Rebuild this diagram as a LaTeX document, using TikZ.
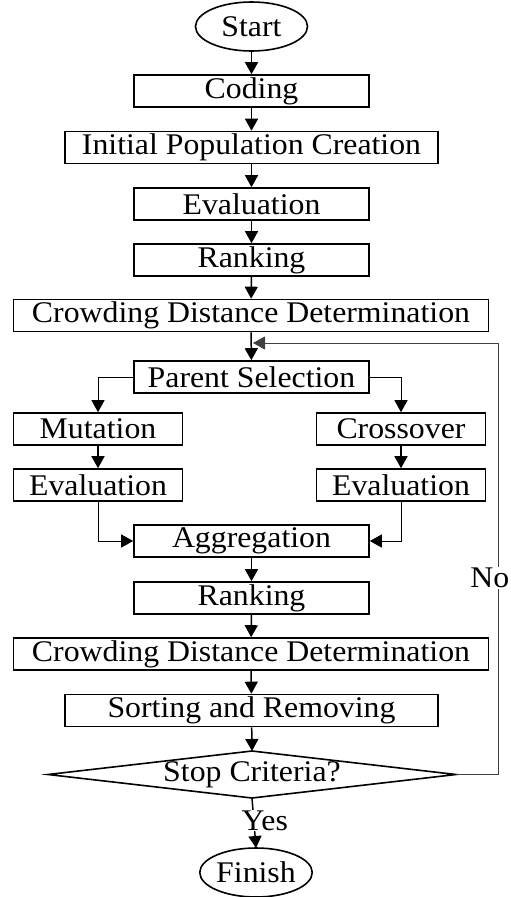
\documentclass[tikz,border=0pt]{standalone}
\usepackage{fontspec}
\setmainfont{Liberation Serif}[FakeStretch=1.06]
\usetikzlibrary{arrows.meta,shapes.geometric}

\begin{document}
\begin{tikzpicture}[x=1pt,y=-1pt,
  every node/.style={font=\fontsize{30}{32}\selectfont, inner sep=0pt},
  box/.style={draw, line width=1.6pt, minimum height=32pt, minimum width=#1},
  box/.default=235pt,
  term/.style={draw, ellipse, line width=1.6pt, minimum width=112pt, minimum height=49pt},
  flow/.style={line width=1.5pt, -{Triangle[length=12pt,width=13pt]}},
  side/.style={line width=1pt, -{Triangle[length=12pt,width=13pt]}},
  loopline/.style={line width=1pt, draw=black!75, -{Triangle[length=12pt,width=13pt]}},
  lbl/.style={fill=white, inner sep=1pt}]
\useasboundingbox (0,0) rectangle (511,897);

% main column
\node[term] (start) at (251.5,26.5) {Start};
\node[box] (coding) at (251.5,91) {Coding};
\node[box=373pt] (init) at (251.5,147.5) {Initial Population Creation};
\node[box] (eval) at (251.5,204) {Evaluation};
\node[box] (rank) at (251.5,260) {Ranking};
\node[box=475pt] (crowd) at (251,315.5) {Crowding Distance Determination};
\node[box] (parent) at (251.5,377) {Parent Selection};

% two branches
\node[box=169pt] (mut) at (98,429) {Mutation};
\node[box=169pt] (cross) at (401,429) {Crossover};
\node[box=169pt] (evall) at (98,485) {Evaluation};
\node[box=169pt] (evalr) at (401,485) {Evaluation};

% after merging
\node[box] (agg) at (251.5,541) {Aggregation};
\node[box] (rank2) at (251.5,598) {Ranking};
\node[box=475pt] (crowd2) at (251,654) {Crowding Distance Determination};
\node[box=373pt] (sort) at (251.5,710.5) {Sorting and Removing};

% decision
\node (stop) at (252,774.5) {Stop Criteria?};
\coordinate (stopN) at (252,751);
\coordinate (stopS) at (252,798);
\coordinate (stopW) at (48,774.5);
\coordinate (stopE) at (456,774.5);
\draw[line width=1.6pt, line join=miter] (stopN) -- (stopE) -- (stopS) -- (stopW) -- cycle;

\node[term] (finish) at (256,872.5) {Finish};

% connectors
\draw[flow] (start) -- (coding);
\draw[flow] (coding) -- (init);
\draw[flow] (init) -- (eval);
\draw[flow] (eval) -- (rank);
\draw[flow] (rank) -- (crowd);
\draw[flow] (crowd) -- (parent);
\draw[side] (parent.west) -| (mut.north);
\draw[side] (parent.east) -| (cross.north);
\draw[flow] (mut) -- (evall);
\draw[flow] (cross) -- (evalr);
\draw[side] (evall.south) |- (agg.west);
\draw[side] (evalr.south) |- (agg.east);
\draw[flow] (agg) -- (rank2);
\draw[flow] (rank2) -- (crowd2);
\draw[flow] (crowd2) -- (sort);
\draw[flow] (sort) -- (stopN);
\draw[flow] (stopS) -- (256,848) node[pos=0.45, lbl, xshift=11pt] (yes) {Yes};

% loop back when the criteria are not met
\coordinate (loopcorner) at (498,774.5);
\coordinate (loopend) at (253,343);
\draw[loopline] (stopE) -- (loopcorner) |- (loopend);
\node[lbl, anchor=east] (no) at (510.5,578) {No};
\end{tikzpicture}
\end{document}
